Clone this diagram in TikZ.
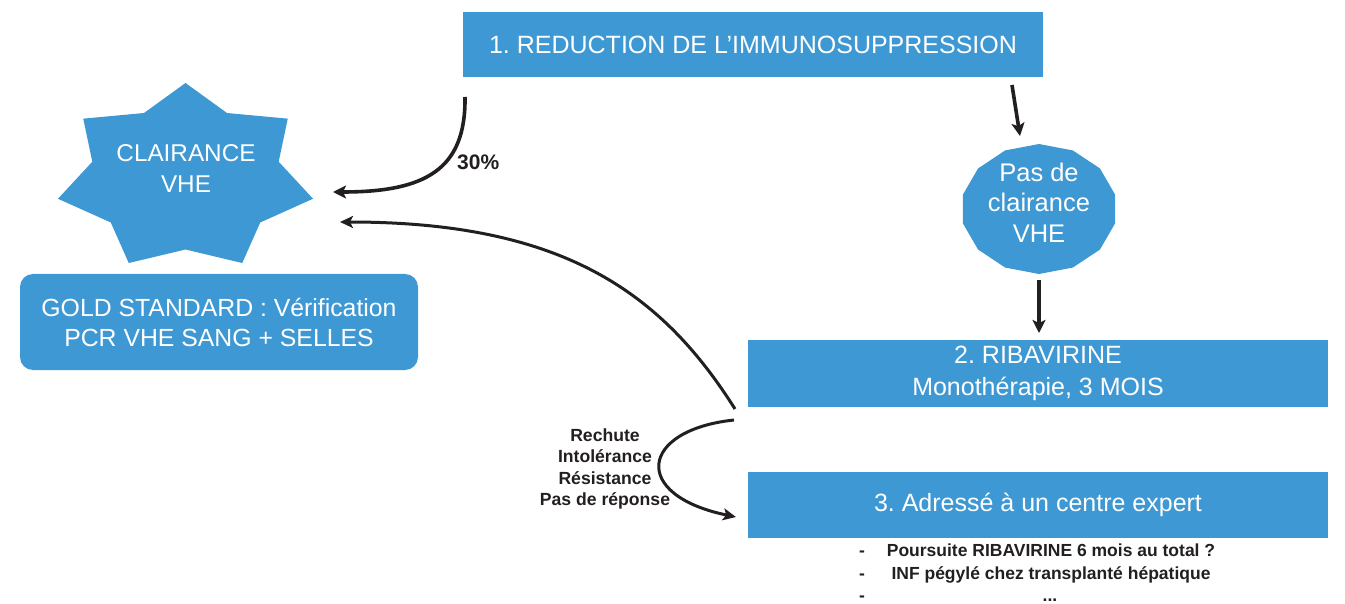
\documentclass[tikz,border=0pt]{standalone}
\usepackage{fontspec}
\setmainfont{Liberation Sans}
\usetikzlibrary{arrows.meta}
\definecolor{vheblue}{RGB}{61,152,211}
\definecolor{ink}{RGB}{35,31,32}
\frenchspacing
\begin{document}
\frenchspacing
\begin{tikzpicture}[x=1pt,y=-1pt,
  box/.style={fill=vheblue, text=white, inner sep=0pt, align=center, font=\fontsize{25}{32}\selectfont},
  shapetext/.style={text=white, inner sep=0pt, align=center},
  arr/.style={draw=ink, line width=3.6pt, -{Stealth[length=13pt,width=13pt,inset=3pt]}},
  arrthin/.style={draw=ink, line width=3pt, -{Stealth[length=13pt,width=12pt,inset=3pt]}},
  lab/.style={text=ink, inner sep=0pt, align=center, font=\bfseries\fontsize{17.6}{21.3}\selectfont},
  item/.style={text=ink, inner sep=0pt, anchor=base, font=\bfseries\fontsize{17.5}{18}\selectfont}]
\useasboundingbox (0,0) rectangle (1345,604);

% boxes
\node[box, minimum width=580pt, minimum height=65pt] (b1) at (753,44.5) {1. REDUCTION DE L’IMMUNOSUPPRESSION};
\node[box, minimum width=580pt, minimum height=67pt] (b2) at (1038,373.5) {2. RIBAVIRINE\\Monothérapie, 3 MOIS};
\node[box, minimum width=580pt, minimum height=66pt] (b3) at (1038,505) {3. Adressé à un centre expert};
\node[box, rounded corners=13pt, minimum width=398pt, minimum height=96pt, font=\fontsize{24.8}{30}\selectfont] (gold) at (219,322) {GOLD STANDARD : Vérification\\PCR VHE SANG + SELLES};

% star (7 points)
\begin{scope}[shift={(185.5,177.7)}]
\fill[vheblue] plot[samples at={0,...,13}] ({((mod(\x,2)==0) ? 130.8 : 95.6)*cos(90+\x*360/14)}, {-((mod(\x,2)==0) ? 94.7 : 71.8)*sin(90+\x*360/14)}) -- cycle;
\end{scope}
\node[shapetext, font=\fontsize{24.3}{31}\selectfont] (star) at (186,168.5) {CLAIRANCE\\VHE};

% polygon (Pas de clairance)
\begin{scope}[shift={(1039,209)}]
\fill[vheblue] plot[samples at={0,...,13}] ({78*cos(90+\x*360/14)}, {-65*sin(90+\x*360/14)}) -- cycle;
\end{scope}
\node[shapetext, font=\fontsize{25.5}{30.5}\selectfont] (pas) at (1039,202.5) {Pas de\\clairance\\VHE};

% connectors
\coordinate (s1) at (465,97);
\coordinate (e1) at (333,192);
\draw[arr] (s1) .. controls (466,170) and (425,192) .. (e1);
\node[lab, font=\bfseries\fontsize{21}{24}\selectfont, anchor=west] (pct) at (457,162) {30\%};

\coordinate (s2) at (1012,85);
\coordinate (e2) at (1020,136);
\draw[arr] (s2) -- (e2);

\coordinate (s3) at (1039,280);
\coordinate (e3) at (1039,333);
\draw[arr] (s3) -- (e3);

\coordinate (s4) at (735,409);
\coordinate (e4) at (340,222);
\draw[arrthin] (s4) .. controls (660,290) and (560,222) .. (e4);

\coordinate (s5) at (734,420);
\coordinate (e5) at (736,517);
\draw[arrthin] (s5) .. controls (640,430) and (630,495) .. (e5);

\node[lab] (causes) at (605,469) {Rechute\\Intolérance\\Résistance\\Pas de réponse};

% list
\node[item] (d1) at (862,556) {-};
\node[item] (d2) at (862,579) {-};
\node[item] (d3) at (862,601) {-};
\node[item] (l1) at (1051,556) {Poursuite RIBAVIRINE 6 mois au total ?};
\node[item] (l2) at (1051,579) {INF pégylé chez transplanté hépatique};
\node[item] (l3) at (1050,601) {...};
\end{tikzpicture}
\end{document}
